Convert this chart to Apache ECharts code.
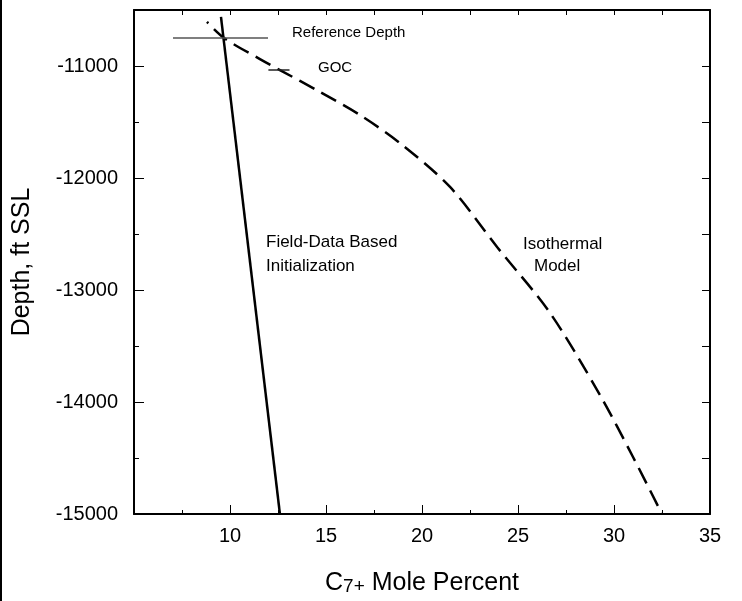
<!DOCTYPE html>
<html>
<head>
<meta charset="utf-8">
<script src="https://cdn.jsdelivr.net/npm/echarts@6/dist/echarts.min.js"></script>
<style>
  html, body { margin: 0; padding: 0; background: #fff; }
  #chart { width: 742px; height: 601px; }
</style>
</head>
<body>
<div id="chart"></div>
<script>
// C7+ mole percent versus depth (ft SSL)
var fieldDataLine = [[9.53, -10562], [12.6, -15000]];

var isothermalModel = [
  [8.80, -10607], [9.69, -10750], [11.56, -10938], [12.60, -11036],
  [14.69, -11232], [16.77, -11438], [18.85, -11688], [21.46, -12080],
  [23.91, -12616], [26.67, -13205], [29.27, -13938], [30.99, -14491],
  [32.50, -15000]
];

var referenceDepthMark = [[7.03, -10750], [11.98, -10750]];
var gocMark = [[12.0, -11036], [13.1, -11036]];

var xTickLabels = [10, 15, 20, 25, 30, 35];
var yTickLabels = [-15000, -14000, -13000, -12000, -11000];

var FONT = 'Liberation Sans, Arial, sans-serif';

var chart = echarts.init(document.getElementById('chart'));

var option = {
  backgroundColor: '#fff',
  animation: false,
  grid: { left: 134, right: 32, top: 10, bottom: 87, outerBoundsMode: 'none', containLabel: false },
  xAxis: [{
    type: 'value', min: 5, max: 35, interval: 5, position: 'bottom',
    name: '{c|C}{s|7+}{c| Mole Percent}',
    nameLocation: 'middle', nameGap: 57,
    nameTextStyle: {
      rich: {
        c: { fontFamily: FONT, fontSize: 25, color: '#000' },
        s: { fontFamily: FONT, fontSize: 19, color: '#000', padding: [6, 0, 0, 0] }
      }
    },
    axisLine: { show: true, lineStyle: { color: '#000', width: 2 } },
    axisTick: { show: true, inside: true, length: 9, lineStyle: { color: '#000', width: 1 } },
    minorTick: { show: true, splitNumber: 2, length: 4, lineStyle: { color: '#000', width: 1 } },
    splitLine: { show: false },
    axisLabel: {
      fontFamily: FONT, fontSize: 20, color: '#000', margin: 12,
      formatter: function (v) { return xTickLabels.indexOf(v) >= 0 ? String(v) : ''; }
    }
  }, {
    type: 'value', min: 5, max: 35, interval: 2.5, position: 'top',
    axisLine: { show: true, lineStyle: { color: '#000', width: 2 } },
    axisTick: { show: true, inside: true, length: 5, lineStyle: { color: '#000', width: 1 } },
    splitLine: { show: false },
    axisLabel: { show: false }
  }],
  yAxis: [{
    type: 'value', min: -15000, max: -10500, interval: 1000, position: 'left',
    name: 'Depth, ft SSL',
    nameLocation: 'middle', nameGap: 99, nameRotate: 90,
    nameTextStyle: { fontFamily: FONT, fontSize: 25, color: '#000' },
    axisLine: { show: true, lineStyle: { color: '#000', width: 2 } },
    axisTick: { show: true, inside: true, length: 10, lineStyle: { color: '#000', width: 1 } },
    minorTick: { show: true, splitNumber: 2, length: 5, lineStyle: { color: '#000', width: 1 } },
    splitLine: { show: false },
    axisLabel: {
      fontFamily: FONT, fontSize: 20, color: '#000', margin: 16,
      formatter: function (v) { return yTickLabels.indexOf(v) >= 0 ? String(v) : ''; }
    }
  }, {
    type: 'value', min: -15000, max: -10500, interval: 500, position: 'right',
    axisLine: { show: true, lineStyle: { color: '#000', width: 2 } },
    axisTick: { show: true, inside: true, length: 8, lineStyle: { color: '#000', width: 1 } },
    splitLine: { show: false },
    axisLabel: { show: false }
  }],
  series: [{
    name: 'Field-Data Based Initialization',
    type: 'line', data: fieldDataLine, symbol: 'none',
    lineStyle: { color: '#000', width: 2.5 }
  }, {
    name: 'Isothermal Model',
    type: 'line', data: isothermalModel, symbol: 'none', smooth: 0.3,
    lineStyle: { color: '#000', width: 2.5, type: [17, 8], dashOffset: 15 }
  }, {
    name: 'Reference Depth',
    type: 'line', data: referenceDepthMark, symbol: 'none',
    lineStyle: { color: '#555', width: 1.5 }
  }, {
    name: 'GOC',
    type: 'line', data: gocMark, symbol: 'none',
    lineStyle: { color: '#222', width: 1.5 }
  }],
  graphic: [
    { type: 'rect', left: 0, top: 0, shape: { width: 2, height: 601 }, style: { fill: '#000' } },
    { type: 'text', x: 292, y: 32.5, style: { text: 'Reference Depth', font: '15px ' + FONT, fill: '#000', verticalAlign: 'middle' } },
    { type: 'text', x: 318, y: 68, style: { text: 'GOC', font: '15px ' + FONT, fill: '#000', verticalAlign: 'middle' } },
    { type: 'text', x: 266, y: 242, style: { text: 'Field-Data Based', font: '17px ' + FONT, fill: '#000', verticalAlign: 'middle' } },
    { type: 'text', x: 266, y: 266, style: { text: 'Initialization', font: '17px ' + FONT, fill: '#000', verticalAlign: 'middle' } },
    { type: 'text', x: 523, y: 244, style: { text: 'Isothermal', font: '17px ' + FONT, fill: '#000', verticalAlign: 'middle' } },
    { type: 'text', x: 534, y: 266, style: { text: 'Model', font: '17px ' + FONT, fill: '#000', verticalAlign: 'middle' } }
  ]
};

chart.setOption(option);
</script>
</body>
</html>
